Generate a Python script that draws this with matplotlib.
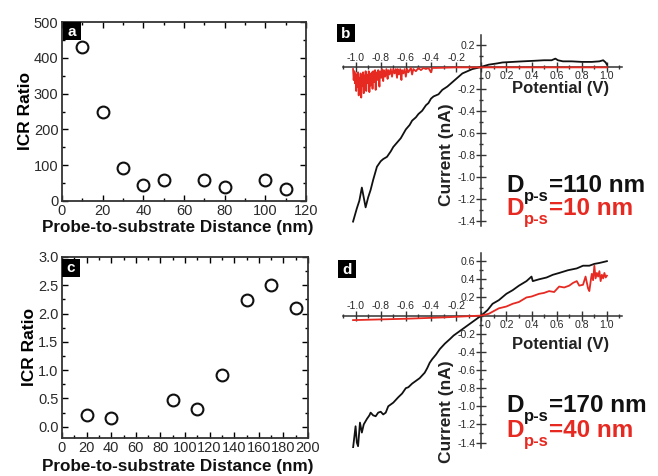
import numpy as np
import matplotlib
matplotlib.use('Agg')
import matplotlib.pyplot as plt
from matplotlib.patches import Rectangle

plt.rcParams['font.family'] = ['Liberation Sans', 'DejaVu Sans']
plt.rcParams['axes.unicode_minus'] = False

# ---- data ----
# panel a: ICR ratio vs probe-to-substrate distance
dist_a = [10, 20, 30, 40, 50, 70, 80, 100, 110]
icr_a = [430, 249, 93, 45, 60, 59, 40, 59, 33]

# panel c
dist_c = [20, 40, 90, 110, 130, 150, 170, 190]
icr_c = [0.20, 0.15, 0.48, 0.31, 0.91, 2.24, 2.51, 2.09]

# panel b: I-V curves, D=110 nm (black) and D=10 nm (red)
v_b110 = [-1.02, -0.99, -0.97, -0.95, -0.93, -0.92, -0.90, -0.88, -0.86, -0.83,
          -0.80, -0.78, -0.75, -0.72, -0.70, -0.67, -0.64, -0.60, -0.57, -0.55,
          -0.52, -0.50, -0.47, -0.44, -0.42, -0.40, -0.38, -0.34, -0.31, -0.27,
          -0.23, -0.19, -0.15, -0.11, -0.07, -0.03, 0.0, 0.06, 0.12, 0.17,
          0.25, 0.33, 0.42, 0.50, 0.56, 0.59, 0.61, 0.65, 0.72, 0.80,
          0.88, 0.94, 0.97, 0.99, 1.0]
i_b110 = [-1.41, -1.29, -1.22, -1.10, -1.22, -1.28, -1.19, -1.12, -1.03, -0.91,
          -0.86, -0.84, -0.82, -0.77, -0.73, -0.69, -0.65, -0.57, -0.53, -0.49,
          -0.46, -0.43, -0.40, -0.35, -0.33, -0.29, -0.27, -0.25, -0.21, -0.18,
          -0.14, -0.10, -0.06, -0.04, -0.02, -0.01, 0.0, 0.02, 0.03, 0.04,
          0.045, 0.05, 0.055, 0.06, 0.06, 0.075, 0.06, 0.05, 0.05, 0.045,
          0.045, 0.05, 0.06, 0.04, 0.02]

v_b10 = [-1.02, -1.015, -1.01, -1.005, -1.0, -0.995, -0.99, -0.985, -0.98, -0.975,
         -0.97, -0.965, -0.96, -0.955, -0.95, -0.945, -0.94, -0.935, -0.93, -0.925,
         -0.92, -0.915, -0.91, -0.90, -0.895, -0.89, -0.885, -0.88, -0.87, -0.865,
         -0.86, -0.85, -0.845, -0.84, -0.835, -0.825, -0.82, -0.81, -0.805, -0.795,
         -0.79, -0.78, -0.775, -0.765, -0.755, -0.745, -0.74, -0.73, -0.72, -0.71,
         -0.70, -0.69, -0.68, -0.67, -0.665, -0.655, -0.645, -0.635, -0.63, -0.62,
         -0.61, -0.60, -0.59, -0.58, -0.56, -0.55, -0.54, -0.52, -0.50, -0.48,
         -0.46, -0.44, -0.42, -0.40, -0.39, -0.36, -0.2, 0.0, 0.5, 1.0]
i_b10 = [-0.02, -0.12, -0.04, -0.15, -0.06, -0.22, -0.08, -0.18, -0.05, -0.26,
         -0.10, -0.20, -0.06, -0.28, -0.09, -0.17, -0.05, -0.24, -0.08, -0.19,
         -0.04, -0.22, -0.07, -0.15, -0.04, -0.23, -0.06, -0.17, -0.05, -0.20,
         -0.04, -0.14, -0.03, -0.21, -0.05, -0.12, -0.03, -0.18, -0.04, -0.10,
         -0.02, -0.13, -0.03, -0.09, -0.02, -0.11, -0.03, -0.07, -0.02, -0.09,
         -0.02, -0.06, -0.02, -0.10, -0.02, -0.07, -0.02, -0.12, -0.03, -0.06,
         -0.02, -0.09, -0.02, -0.05, -0.01, -0.07, -0.02, -0.04, -0.01, -0.03,
         -0.01, -0.02, -0.01, -0.05, -0.01, -0.01, -0.005, -0.005, -0.005, -0.005]

# panel d: I-V curves, D=170 nm (black) and D=40 nm (red)
v_d170 = [-1.02, -1.00, -0.99, -0.98, -0.965, -0.95, -0.935, -0.91, -0.89, -0.88,
          -0.86, -0.84, -0.82, -0.80, -0.78, -0.76, -0.74, -0.72, -0.70, -0.68,
          -0.66, -0.63, -0.60, -0.58, -0.55, -0.52, -0.49, -0.45, -0.43, -0.41,
          -0.39, -0.36, -0.33, -0.29, -0.25, -0.22, -0.18, -0.15, -0.11, -0.07,
          -0.03, 0.0, 0.05, 0.09, 0.14, 0.20, 0.25, 0.30, 0.36, 0.40,
          0.41, 0.46, 0.52, 0.57, 0.62, 0.69, 0.76, 0.81, 0.86, 0.90,
          0.94, 0.97, 1.0]
i_d170 = [-1.46, -1.22, -1.40, -1.44, -1.18, -1.29, -1.20, -1.14, -1.10, -1.07,
          -1.10, -1.11, -1.07, -1.06, -1.09, -1.07, -1.00, -0.98, -0.96, -0.93,
          -0.90, -0.86, -0.80, -0.79, -0.75, -0.72, -0.69, -0.63, -0.58, -0.52,
          -0.48, -0.43, -0.37, -0.31, -0.26, -0.22, -0.18, -0.15, -0.11, -0.07,
          -0.03, 0.0, 0.06, 0.13, 0.17, 0.24, 0.28, 0.33, 0.38, 0.43,
          0.38, 0.40, 0.42, 0.45, 0.47, 0.50, 0.52, 0.55, 0.55, 0.57,
          0.58, 0.59, 0.60]

v_d40 = [-1.02, -0.6, -0.3, 0.0, 0.06, 0.14, 0.20, 0.25, 0.30, 0.36,
         0.40, 0.46, 0.50, 0.54, 0.58, 0.62, 0.66, 0.70, 0.73, 0.76,
         0.78, 0.81, 0.83, 0.85, 0.86, 0.875, 0.88, 0.89, 0.90, 0.91,
         0.92, 0.93, 0.94, 0.95, 0.96, 0.97, 0.98, 0.99, 1.0]
i_d40 = [-0.05, -0.035, -0.02, 0.0, 0.02, 0.08, 0.10, 0.13, 0.15, 0.20,
         0.21, 0.24, 0.25, 0.27, 0.26, 0.32, 0.31, 0.33, 0.36, 0.38,
         0.33, 0.34, 0.43, 0.30, 0.27, 0.42, 0.46, 0.39, 0.55, 0.41,
         0.47, 0.43, 0.49, 0.38, 0.45, 0.41, 0.47, 0.42, 0.44]

pot_ticks = [-1.0, -0.8, -0.6, -0.4, -0.2, 0.0, 0.2, 0.4, 0.6, 0.8, 1.0]
cur_ticks_b = [0.2, -0.2, -0.4, -0.6, -0.8, -1.0, -1.2, -1.4]
cur_ticks_d = [0.6, 0.4, 0.2, -0.2, -0.4, -0.6, -0.8, -1.0, -1.2, -1.4]

RED = '#e62a22'
GREY = '#2a2a2a'
W, H = 658, 476
TICK_FS = 7.6

fig = plt.figure(figsize=(W / 100, H / 100), dpi=100)
renderer = fig.canvas.get_renderer()


def px(x, y):
    return x / W, 1 - y / H


def rect(x0, y0, x1, y1):
    # pixel box (top-left, bottom-right) -> axes rect
    return [x0 / W, 1 - y1 / H, (x1 - x0) / W, (y1 - y0) / H]


def panel_tag(x, y, s):
    fig.patches.append(Rectangle(px(x, y + 18), 18 / W, 18 / H, transform=fig.transFigure,
                                 facecolor='black', edgecolor='none'))
    fig.text(*px(x + 9, y + 9.5), s, color='white', fontsize=11, fontweight='bold',
             ha='center', va='center')


def scatter_axes(r, x, y, xlim, ylim, xmaj, xmin, ymaj, ymin, xlab_y):
    ax = fig.add_axes(r)
    ax.plot(x, y, 'o', mfc='none', mec='#111111', mew=1.5, ms=8.5)
    ax.set_xlim(*xlim)
    ax.set_ylim(*ylim)
    ax.set_xticks(xmaj)
    ax.set_xticks(xmin, minor=True)
    ax.set_yticks(ymaj)
    ax.set_yticks(ymin, minor=True)
    ax.tick_params(which='both', direction='in', top=True, right=True, width=1,
                   labelsize=10.5, labelcolor=GREY)
    ax.tick_params(axis='x', pad=2)
    ax.tick_params(axis='y', pad=2.5)
    ax.tick_params(which='major', length=4)
    ax.tick_params(which='minor', length=2)
    for s in ax.spines.values():
        s.set_linewidth(1.3)
        s.set_color('#333333')
    ax.set_ylabel('ICR Ratio', fontsize=12.5, fontweight='bold', labelpad=0.5)
    fig.text(*px(178, xlab_y), 'Probe-to-substrate Distance (nm)', fontsize=12.3,
             fontweight='bold', ha='center', va='center', color='#111111')
    return ax


def iv_axes(r, ylim, yticks):
    ax = fig.add_axes(r)
    ax.patch.set_visible(False)
    ax.spines['left'].set_position('zero')
    ax.spines['bottom'].set_position('zero')
    ax.spines['top'].set_visible(False)
    ax.spines['right'].set_visible(False)
    for s in ('left', 'bottom'):
        ax.spines[s].set_linewidth(1.1)
        ax.spines[s].set_color('#333333')
    ax.set_xlim(-1.1, 1.12)
    ax.set_ylim(*ylim)
    ax.set_xticks(pot_ticks)
    ax.set_xticks(np.arange(-1.1, 1.11, 0.1), minor=True)
    ax.set_xticklabels([])
    ax.set_yticks(yticks)
    ax.set_yticklabels(['%.1f' % t for t in yticks])
    ax.set_yticks(np.arange(-1.4, ylim[1], 0.1), minor=True)
    ax.tick_params(which='both', direction='inout', width=1, color='#333333',
                   labelsize=TICK_FS, labelcolor=GREY, pad=1)
    ax.tick_params(which='major', length=6.5)
    ax.tick_params(which='minor', length=3.5)
    for t in pot_ticks:
        if t < 0:
            ax.annotate('%.1f' % t, (t, 0), xytext=(0, 3), textcoords='offset points',
                        ha='center', va='bottom', fontsize=TICK_FS, color=GREY)
        elif t == 0:
            ax.annotate('0', (t, 0), xytext=(4.5, -3), textcoords='offset points',
                        ha='center', va='top', fontsize=TICK_FS, color=GREY)
        else:
            ax.annotate('%.1f' % t, (t, 0), xytext=(0, -3), textcoords='offset points',
                        ha='center', va='top', fontsize=TICK_FS, color=GREY)
    return ax


def dps_label(x, y, text, color):
    # "D" + subscript "p-s" + "=... nm", laid out from measured text widths
    kw = dict(fontweight='bold', color=color, ha='left', va='baseline')
    t1 = fig.text(*px(x, y), 'D', fontsize=17.5, **kw)
    x2 = t1.get_window_extent(renderer).x1 + 0.5
    t2 = fig.text(x2 / W, 1 - (y + 9) / H, 'p-s', fontsize=12, **kw)
    x3 = t2.get_window_extent(renderer).x1 + 0.5
    fig.text(x3 / W, 1 - y / H, text, fontsize=17.5, **kw)


# panel a
ax_a = scatter_axes(rect(62, 22, 306, 201), dist_a, icr_a, (0, 120), (0, 500),
                    range(0, 121, 20), range(0, 121, 10),
                    range(0, 501, 100), range(0, 501, 50), 227)
panel_tag(63, 22, 'a')

# panel c
ax_c = scatter_axes(rect(62, 257, 308, 438), dist_c, icr_c, (0, 200), (-0.2, 3.0),
                    range(0, 201, 20), range(0, 201, 10),
                    np.arange(0, 3.01, 0.5), np.arange(0, 3.01, 0.25), 466)
panel_tag(62, 259, 'c')

# panel b
ax_b = iv_axes(rect(343, 35, 622, 226), (-1.45, 0.29), cur_ticks_b)
ax_b.plot(v_b110, i_b110, color='#111111', lw=1.3, zorder=3)
ax_b.plot(v_b10, i_b10, color=RED, lw=1.3, zorder=4)
fig.text(*px(561, 89), 'Potential (V)', fontsize=12, fontweight='bold',
         ha='center', va='center', color='#222222')
fig.text(*px(446, 155), 'Current (nA)', fontsize=12.5, fontweight='bold',
         ha='center', va='center', rotation=90, color='#222222')
panel_tag(337, 24, 'b')
dps_label(506, 192, '=110 nm', '#111111')
dps_label(506, 215, '=10 nm', RED)

# panel d
ax_d = iv_axes(rect(343, 253, 622, 448), (-1.46, 0.69), cur_ticks_d)
ax_d.plot(v_d170, i_d170, color='#111111', lw=1.3, zorder=3)
ax_d.plot(v_d40, i_d40, color=RED, lw=1.3, zorder=4)
fig.text(*px(561, 344), 'Potential (V)', fontsize=12, fontweight='bold',
         ha='center', va='center', color='#222222')
fig.text(*px(446, 412), 'Current (nA)', fontsize=12.5, fontweight='bold',
         ha='center', va='center', rotation=90, color='#222222')
panel_tag(338, 260, 'd')
dps_label(506, 412, '=170 nm', '#111111')
dps_label(506, 437, '=40 nm', RED)

fig.savefig('out.png', dpi=100)
